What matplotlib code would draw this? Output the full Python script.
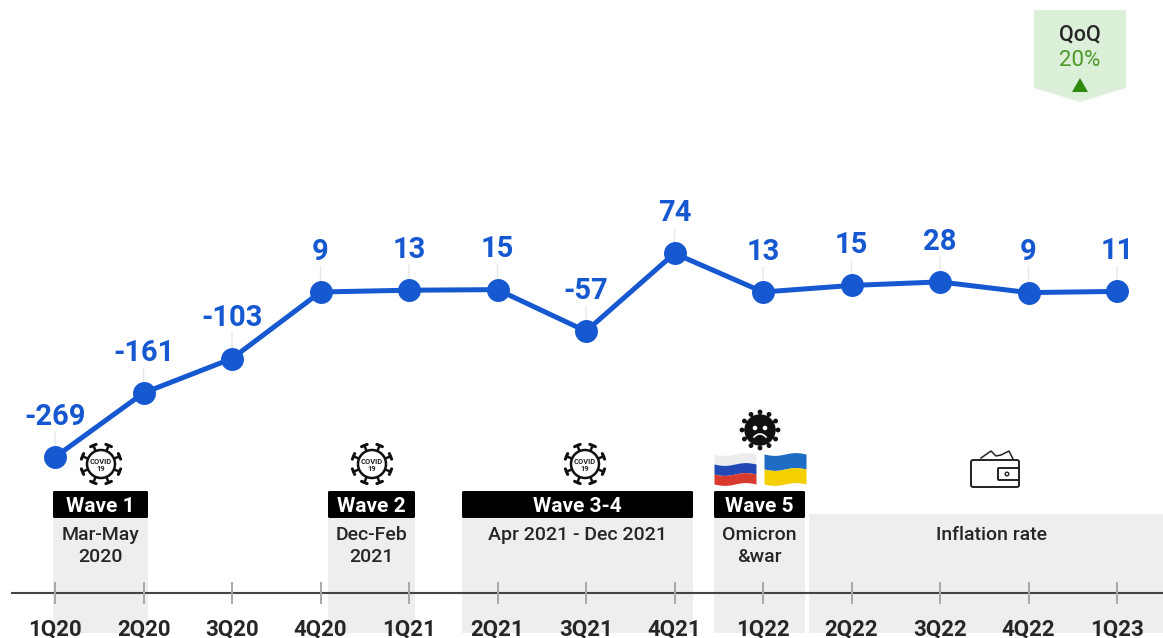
import numpy as np
import matplotlib
matplotlib.use("Agg")
import matplotlib.pyplot as plt
from matplotlib.patches import Circle, Polygon, Rectangle, FancyBboxPatch

plt.rcParams['font.family'] = ['Roboto', 'DejaVu Sans']

quarters = ['1Q20', '2Q20', '3Q20', '4Q20', '1Q21', '2Q21', '3Q21', '4Q21',
            '1Q22', '2Q22', '3Q22', '4Q22', '1Q23']
# printed labels
labels = ['-269', '-161', '-103', '9', '13', '15', '-57', '74', '13', '15', '28', '9', '11']
# heights, they differ a little from the printed labels
values = [-269, -161, -103, 9, 12, 13, -57, 74, 9, 20, 26, 8, 10]

wave_names = ['Wave 1', 'Wave 2', 'Wave 3-4', 'Wave 5']
wave_notes = ['Mar-May\n2020', 'Dec-Feb\n2021', 'Apr 2021 - Dec 2021', 'Omicron\n&war']
wave_spans = [(53, 148), (328, 415), (462, 693), (714, 805)]

BLUE = '#1558D0'
GREY = '#EEEEEE'
DARK = '#262626'

W, H = 1163, 638
fig = plt.figure(figsize=(W / 100, H / 100), dpi=100)

# decoration layer in pixels, y going down
deco = fig.add_axes([0, 0, 1, 1], zorder=1)
deco.set_xlim(0, W)
deco.set_ylim(H, 0)
deco.axis('off')

# chart layer
ax = fig.add_axes([0, 0, 1, 1], zorder=2)
ax.patch.set_alpha(0)
step = 88.5
x0 = 55
ax.set_xlim(-x0 / step, (W - x0) / step)
scale = 0.594
ax.set_ylim(9 - (H - 292) / scale, 9 + 292 / scale)
ax.axis('off')


def covid(cx, cy):
    for a in np.arange(0, 360, 45) + 22.5:
        c, s = np.cos(np.radians(a)), np.sin(np.radians(a))
        deco.plot([cx + 13 * c, cx + 20 * c], [cy + 13 * s, cy + 20 * s], color='#111111', lw=1.8, zorder=5)
        deco.plot([cx + 20 * c - 3 * s, cx + 20 * c + 3 * s], [cy + 20 * s + 3 * c, cy + 20 * s - 3 * c],
                  color='#111111', lw=2.2, solid_capstyle='round', zorder=5)
    deco.add_patch(Circle((cx, cy), 14, fc='white', ec='#111111', lw=1.8, zorder=5))
    deco.text(cx, cy - 2.5, 'COVID', ha='center', va='center', fontsize=5.4, fontweight='bold', color='#222222', zorder=6)
    deco.text(cx, cy + 5, '19', ha='center', va='center', fontsize=5.4, fontweight='bold', color='#222222', zorder=6)


def sad_virus(cx, cy):
    for a in np.arange(0, 360, 30):
        c, s = np.cos(np.radians(a)), np.sin(np.radians(a))
        deco.plot([cx, cx + 17.5 * c], [cy, cy + 17.5 * s], color='#111111', lw=1.2, zorder=5)
        deco.add_patch(Circle((cx + 18 * c, cy + 18 * s), 1.7, color='#111111', zorder=5))
    deco.add_patch(Circle((cx, cy), 15, color='#111111', zorder=5))
    deco.add_patch(Circle((cx - 5, cy - 2), 1.6, color='white', zorder=6))
    deco.add_patch(Circle((cx + 5, cy - 2), 1.6, color='white', zorder=6))
    t = np.linspace(-1, 1, 20)
    deco.plot(cx + 6 * t, cy + 4 + 3 * t ** 2, color='white', lw=1.2, zorder=6)


def flag(x_left, y_top, w, h, colors):
    t = np.linspace(0, 1, 30)
    wave = 1.4 * np.sin(t * 2 * np.pi)
    n = len(colors)
    for i, col in enumerate(colors):
        top = y_top + h * i / n + wave
        bot = y_top + h * (i + 1) / n + wave
        deco.fill_between(x_left + w * t, top, bot, color=col, lw=0, zorder=5)


def wallet(x, y, w, h):
    deco.add_patch(FancyBboxPatch((x, y), w, h, boxstyle='round,pad=0,rounding_size=2',
                                  fc='white', ec='#222222', lw=1.4, zorder=5))
    deco.add_patch(FancyBboxPatch((x + 27, y + 8), w - 27, 12, boxstyle='round,pad=0,rounding_size=1',
                                  fc='white', ec='#222222', lw=1.4, zorder=6))
    deco.add_patch(Circle((x + 36, y + 14), 1.8, fc='white', ec='#222222', lw=1, zorder=7))
    deco.plot([x + 10, x + 20, x + 25, x + 30, x + 38, x + 42],
              [y - 2, y - 9, y - 4, y - 5, y - 9, y - 1], color='#222222', lw=1.1, zorder=5)


# grey panels and black headers
for (a, b), name, note in zip(wave_spans, wave_names, wave_notes):
    deco.add_patch(Rectangle((a, 518), b - a, 115, color=GREY, lw=0, zorder=1))
    deco.add_patch(FancyBboxPatch((a, 491), b - a, 27, boxstyle='round,pad=0,rounding_size=1.5',
                                  fc='black', ec='none', zorder=3))
    deco.text((a + b) / 2, 506, name, color='white', ha='center', va='center',
              fontsize=15, fontweight='bold', zorder=4)
    deco.text((a + b) / 2, 526, note, color=DARK, ha='center', va='top',
              fontsize=14, fontweight='medium', linespacing=1.25, zorder=4)

deco.add_patch(Rectangle((809, 514), W - 809, 119, color=GREY, lw=0, zorder=1))
deco.text(992, 526, 'Inflation rate', color=DARK, ha='center', va='top', fontsize=14,
          fontweight='medium', zorder=4)

# icons
for cx in [101, 372, 585]:
    covid(cx, 464)
sad_virus(760, 430)
flag(714, 454, 42, 30, ['#EDEDED', '#2248B5', '#D83A2E'])
flag(764, 454, 42, 30, ['#1F6CC4', '#F5D000'])
wallet(971, 460, 48, 27)

# time axis
deco.plot([12, W], [593, 593], color='#444444', lw=1.5, zorder=2)
xs = np.arange(len(quarters))
ax.vlines(xs, 9 - (604 - 292) / scale, 9 - (582 - 292) / scale, color='#A8A8A8', lw=1.4, zorder=3)
# the reference clips these at the bottom edge, here they stay just inside
for x, q in zip(xs, quarters):
    ax.annotate(q, (x, 9 - (635 - 292) / scale), ha='center', va='baseline', fontsize=16,
                fontweight='bold', color=DARK)

# line, markers and value labels
for x, v, lab in zip(xs, values, labels):
    ax.annotate('', (x, v), xytext=(0, 18), textcoords='offset points',
                arrowprops=dict(arrowstyle='-', color='#E6E6E6', lw=1, shrinkA=0, shrinkB=0), zorder=3)
    ax.annotate(lab, (x, v), xytext=(0, 29), textcoords='offset points', ha='center', va='center',
                fontsize=21, fontweight='bold', color=BLUE, zorder=6)
ax.plot(xs, values, color=BLUE, lw=3.6, marker='o', ms=15.5, mec=BLUE, zorder=5)

# QoQ badge
deco.add_patch(Polygon([(1034, 10), (1126, 10), (1126, 88), (1080, 102), (1034, 88)],
                       closed=True, fc='#DCEFD8', ec='none', zorder=2))
deco.text(1080, 35, 'QoQ', ha='center', va='center', fontsize=15.5, fontweight='medium', color=DARK, zorder=4)
deco.text(1080, 61, '20%', ha='center', va='center', fontsize=16, color='#4C9A2A', zorder=4)
deco.add_patch(Polygon([(1072, 92), (1088, 92), (1080, 78)], closed=True, fc='#2E8B0B', ec='none', zorder=4))

fig.savefig('out.png', dpi=100)
